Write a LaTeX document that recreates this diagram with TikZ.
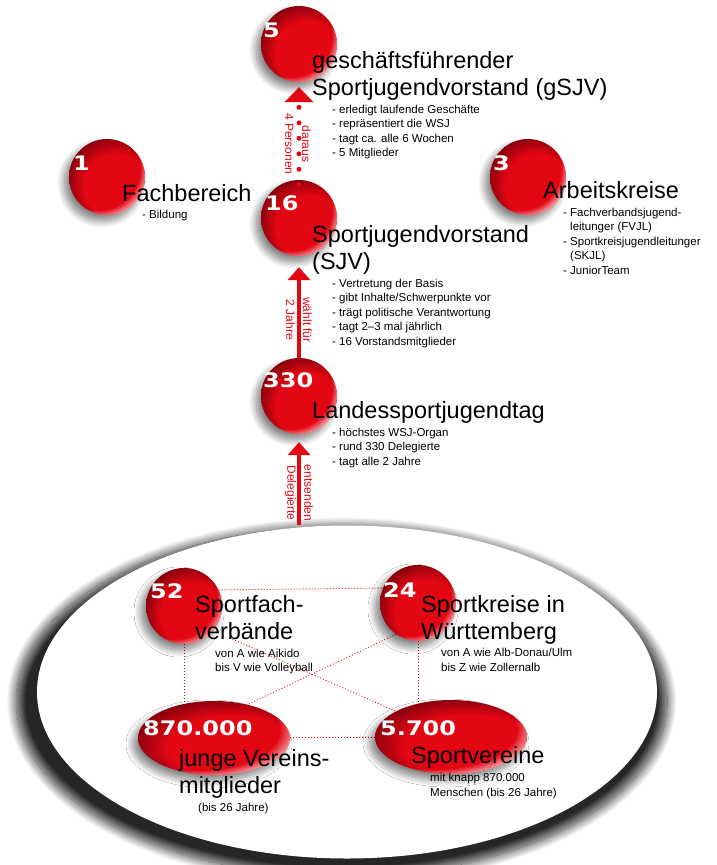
\documentclass[tikz,border=0pt]{standalone}
\usepackage{fontspec}
\setmainfont{Liberation Sans}
\newfontfamily\numfont[FakeStretch=1.2]{DejaVu Sans}
\usetikzlibrary{arrows.meta,shapes.geometric,shadows.blur,fadings,backgrounds}
\definecolor{wsjred}{RGB}{227,6,19}
\definecolor{wsjdark}{RGB}{120,0,12}
\pgfdeclareradialshading{redball}{\pgfpoint{10bp}{-10bp}}{color(0bp)=(wsjred); color(21bp)=(wsjred); color(32bp)=(wsjdark); color(50bp)=(wsjdark)}
\pgfdeclareradialshading{rimmask}{\pgfpoint{-12bp}{12bp}}{color(0bp)=(pgftransparent!100); color(27bp)=(pgftransparent!100); color(32bp)=(pgftransparent!25); color(50bp)=(pgftransparent!25)}
\pgfdeclarefading{rimglow}{\pgfuseshading{rimmask}}
\tikzset{
  ball/.style={circle, inner sep=0pt, minimum size=76pt, shade, shading=redball,
    blur shadow={shadow xshift=-5pt, shadow yshift=-6pt, shadow blur radius=7pt, shadow blur steps=12, shadow opacity=50},
    path picture={\fill[white, path fading=rimglow] (path picture bounding box.south west) rectangle (path picture bounding box.north east);}},
  egg/.style={ball, ellipse, minimum width=152pt, minimum height=74pt},
  count/.style={anchor=base west, inner sep=0pt, text=white, font=\numfont\bfseries\fontsize{20}{20}\selectfont},
  head/.style={anchor=base west, inner sep=0pt, align=left, font=\fontsize{23.5}{27}\selectfont},
  facts/.style={anchor=base west, inner sep=0pt, align=left, font=\fontsize{11.5}{14.5}\selectfont},
  hint/.style={rotate=-90, inner sep=0pt, align=center, text=wsjred, font=\fontsize{12}{17}\selectfont},
  link/.style={wsjred, line width=0.9pt, dash pattern=on 0.9pt off 2.1pt},
  lift/.style={wsjred, line width=4pt, -{Triangle[width=23pt, length=13pt, line width=0pt]}},
  dotlift/.style={wsjred, line width=5pt, line cap=round, dash pattern=on 0pt off 15.5pt, -{Triangle[width=29pt, length=15pt, line width=0pt]}}
}
\begin{document}
\begin{tikzpicture}[x=1pt, y=-1pt]
	\useasboundingbox (0,0) rectangle (717,865);
	
	%%%%% BALLS %%%%%
	\node[ball] (gsjv) at (299,44) {};
	\node[ball] (fach) at (107,177) {};
	\node[ball] (ak) at (528,177) {};
	\node[ball] (sjv) at (299,218) {};
	\node[ball] (lsjt) at (299,396) {};
	\node[ball] (sfv) at (184,606) {};
	\node[ball] (skr) at (418,603) {};
	\node[egg] (mem) at (214,738) {};
	\node[egg] (club) at (451,737) {};
	
	%%%%% BASIN %%%%%
	\begin{scope}[on background layer]
		\node[ellipse, fill=white, minimum width=620pt, minimum height=333pt,
			blur shadow={shadow xshift=-5pt, shadow yshift=-9pt, shadow blur radius=9pt, shadow blur steps=24, shadow opacity=85, shadow scale=1.05}] (basin) at (347,692) {};
		\draw[link] (sfv.25) -- (skr.157);
		\draw[link] (sfv) -- (sfv |- mem);
		\draw[link] (skr) -- (skr |- club);
		\draw[link] (mem) -- (club);
		\draw[link] (skr.235) -- (mem.45);
		\draw[link, shorten <=18pt] (sfv.320) -- (club.155);
	\end{scope}
	
	%%%%% NUMBERS %%%%%
	\node[count] at (263,37) {5};
	\node[count] at (73,170) {1};
	\node[count] at (493,170) {3};
	\node[count] at (265,210) {16};
	\node[count] at (263,387) {330};
	\node[count] at (150,598) {52};
	\node[count] at (383,597) {24};
	\node[count] at (143,735) {870.000};
	\node[count] at (380,735) {5.700};
	
	%%%%% TEXTS (base = last line) %%%%%
	\node[head] (gsjvhead) at (312,95) {geschäftsführender\\Sportjugendvorstand (gSJV)};
	\node[facts] (gsjvfacts) at (332,156.5) {- erledigt laufende Geschäfte\\- repräsentiert die WSJ\\- tagt ca. alle 6 Wochen\\- 5 Mitglieder};
	\node[head] (fachhead) at (122,201) {Fachbereich};
	\node[facts] (fachfacts) at (142,218) {- Bildung};
	\node[head] (akhead) at (543,198) {Arbeitskreise};
	\node[facts] (akfacts) at (563,274) {- Fachverbandsjugend-\\\phantom{- }leitunger (FVJL)\\- Sportkreisjugendleitunger\\\phantom{- }(SKJL)\\- JuniorTeam};
	\node[head] (sjvhead) at (312,269) {Sportjugendvorstand\\(SJV)};
	\node[facts] (sjvfacts) at (332,345) {- Vertretung der Basis\\- gibt Inhalte/Schwerpunkte vor\\- trägt politische Verantwortung\\- tagt 2--3 mal jährlich\\- 16 Vorstandsmitglieder};
	\node[head] (lsjthead) at (312,418) {Landessportjugendtag};
	\node[facts] (lsjtfacts) at (332,465) {- höchstes WSJ-Organ\\- rund 330 Delegierte\\- tagt alle 2 Jahre};
	\node[head] (sfvhead) at (195,639) {Sportfach-\\verbände};
	\node[facts] (sfvfacts) at (215,671.5) {von A wie Aikido\\bis V wie Volleyball};
	\node[head] (skrhead) at (421,639) {Sportkreise in\\Württemberg};
	\node[facts] (skrfacts) at (441,671) {von A wie Alb-Donau/Ulm\\bis Z wie Zollernalb};
	\node[head] (memhead) at (179,793) {junge Vereins-\\mitglieder};
	\node[facts] (memfacts) at (198,811) {(bis 26 Jahre)};
	\node[head] (clubhead) at (411,763) {Sportvereine};
	\node[facts] (clubfacts) at (430,796) {mit knapp 870.000\\Menschen (bis 26 Jahre)};
	
	%%%%% ARROWS %%%%%
	\draw[dotlift, shorten <=-5pt, shorten >=5pt] (sjv.north) -- (gsjv.south);
	\node[hint] at (298,144) {daraus\\4 Personen};
	\draw[lift, shorten >=11pt] (lsjt.north) -- (sjv.south);
	\node[hint] at (299,320) {wählt für\\2 Jahre};
	\draw[lift, shorten >=8pt] (basin.north -| lsjt) -- (lsjt.south);
	\node[hint] at (299,493) {entsenden\\Delegierte};
\end{tikzpicture}
\end{document}
